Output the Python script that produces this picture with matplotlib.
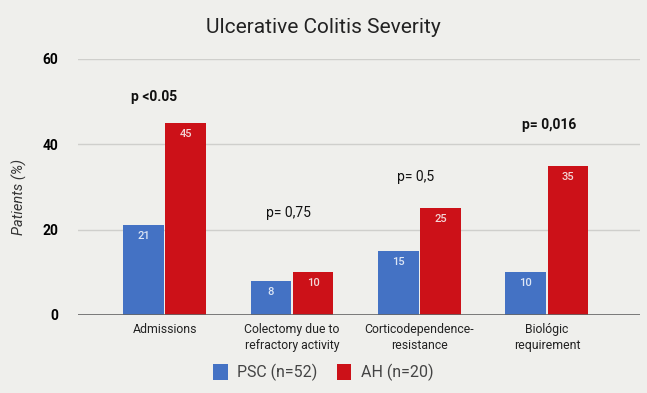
import matplotlib
matplotlib.use("Agg")
import matplotlib.pyplot as plt
import numpy as np

categories = ["Admissions", "Colectomy due to\nrefractory activity",
              "Corticodependence-\nresistance", "Biológic\nrequirement"]
psc = [21, 8, 15, 10]
ah = [45, 10, 25, 35]
series_names = ["PSC (n=52)", "AH (n=20)"]
pvals = ["p <0.05", "p= 0,75", "p= 0,5", "p= 0,016"]
pval_y = [51.2, 23.9, 32.3, 44.5]
pval_bold = [True, False, False, True]
yticks = [0, 20, 40, 60]

bg = "#efefec"
blue = "#4472c4"
red = "#cc1118"

plt.rcParams['font.family'] = ['Roboto', 'DejaVu Sans']
fig = plt.figure(figsize=(6.47, 3.93), dpi=100, facecolor=bg)
ax = fig.add_axes([0.1206, 0.1985, 0.8684, 0.6514], facecolor=bg)

x = np.arange(len(categories))
w = 0.32
off = 0.165
b1 = ax.bar(x - off, psc, w, color=blue, label=series_names[0], zorder=3)
b2 = ax.bar(x + off, ah, w, color=red, label=series_names[1], zorder=3)

for bars, vals, tc in ((b1, psc, '#dde6f5'), (b2, ah, '#f3d6d6')):
    for rect, v in zip(bars, vals):
        ax.text(rect.get_x() + rect.get_width() / 2, v - 2.6, str(v),
                ha='center', va='center', fontsize=8, fontweight='medium',
                color=tc, zorder=4)

pval_dx = [-0.08, -0.03, -0.03, 0.02]
for xi, dx, t, yy, bd in zip(x, pval_dx, pvals, pval_y, pval_bold):
    ax.text(xi + dx, yy, t, ha='center', va='center', fontsize=10,
            fontweight='bold' if bd else 'normal', color='#111111')

ax.set_xlim(-0.68, 3.73)
ax.set_ylim(0, 60)
ax.set_yticks(yticks)
ax.set_yticklabels([str(t) for t in yticks], fontweight='bold', fontsize=10)
ax.set_xticks(x)
ax.set_xticklabels(categories, fontsize=8.8, color='#222222', linespacing=1.3)
ax.tick_params(axis='both', length=0)
ax.tick_params(axis='y', pad=14)
ax.tick_params(axis='x', pad=6)
ax.grid(axis='y', color='#cfcfcc', linewidth=1, zorder=0)
ax.axhline(0, color='#666666', linewidth=1.2, zorder=4)
for s in ax.spines.values():
    s.set_visible(False)

ax.set_ylabel("Patients (%)", fontstyle='italic', fontsize=10.5, color='#333333')
ax.yaxis.set_label_coords(-0.09, 0.46)
fig.text(0.5, 0.93, "Ulcerative Colitis Severity", ha='center', va='center',
         fontsize=15, color='#222222')

fig.legend(handles=[b1, b2], labels=series_names, loc='center', ncol=2,
           bbox_to_anchor=(0.5, 0.052), frameon=False, fontsize=11.5,
           handlelength=0.9, handleheight=1.2, columnspacing=1.2, handletextpad=0.6,
           labelcolor='#444444')

fig.savefig("out.png", dpi=100, facecolor=bg)
